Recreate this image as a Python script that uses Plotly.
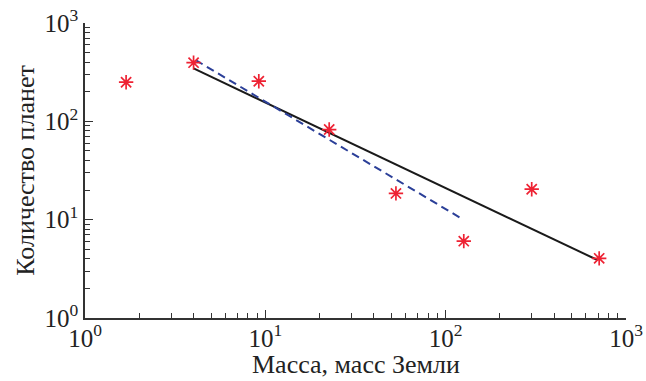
import plotly.graph_objects as go

# Data points (mass in Earth masses, number of planets)
mass = [1.69, 4.0, 9.2, 22.6, 53, 126, 300, 710]
count = [250, 395, 256, 82.5, 18.5, 6.05, 20.4, 4.04]

# Fit lines (endpoints)
fit_solid_x = [4.0, 690]
fit_solid_y = [345, 3.91]
fit_dash_x = [4.11, 120]
fit_dash_y = [419, 10.5]

tick_vals = [1, 10, 100, 1000]
tick_text = ["10<sup>0</sup>", "10<sup>1</sup>", "10<sup>2</sup>", "10<sup>3</sup>"]
minor_vals = [m * 10**k for k in range(3) for m in range(2, 10)]

x_title = "Масса, масс Земли"
y_title = "Количество планет"

FONT = "Liberation Serif, Times New Roman, serif"
AX = "#333333"
RED = "#ee2233"

fig = go.Figure()
fig.add_trace(go.Scatter(x=fit_solid_x, y=fit_solid_y, mode="lines",
                         line=dict(color="#1a1a1a", width=2), showlegend=False))
fig.add_trace(go.Scatter(x=fit_dash_x, y=fit_dash_y, mode="lines",
                         line=dict(color="#2b3f98", width=2, dash="8px,5px"), showlegend=False))
fig.add_trace(go.Scatter(x=mass, y=count, mode="markers",
                         marker=dict(symbol="asterisk-open", size=12, color=RED,
                                     line=dict(color=RED, width=1.7)),
                         showlegend=False, cliponaxis=False))

axis_common = dict(
    type="log", range=[0, 3], showgrid=False, zeroline=False,
    showline=True, linecolor=AX, linewidth=1.5,
    ticks="inside", ticklen=8, tickwidth=1.3, tickcolor=AX,
    tickvals=tick_vals, ticktext=tick_text,
    minor=dict(tickvals=minor_vals, ticks="inside", ticklen=5, tickwidth=1.2, tickcolor=AX),
    tickfont=dict(family=FONT, size=25, color="#222"),
    mirror=False, automargin=False,
)

fig.update_xaxes(**axis_common, ticklabelstandoff=-3)
fig.update_yaxes(**axis_common,
                 title=dict(text=y_title, font=dict(family=FONT, size=26, color="#222"), standoff=2))

fig.add_annotation(text=x_title, xref="paper", yref="paper", x=0.5, y=0,
                   xanchor="center", yanchor="bottom", yshift=-62, showarrow=False,
                   borderpad=0, font=dict(family=FONT, size=26, color="#222"))

fig.update_layout(
    width=646, height=381,
    margin=dict(l=85, r=20, t=23, b=63),
    plot_bgcolor="white", paper_bgcolor="white",
)

fig.write_html("out.html")
